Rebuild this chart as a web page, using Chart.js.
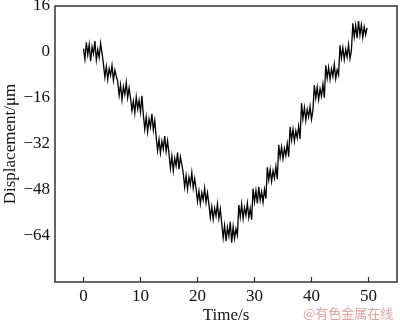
<!DOCTYPE html>
<html>
<head>
<meta charset="utf-8">
<script src="https://cdn.jsdelivr.net/npm/chart.js@4/dist/chart.umd.min.js"></script>
<style>
  html, body { margin: 0; padding: 0; background: #fff; }
  #wrap { width: 400px; height: 320px; position: relative; }
</style>
</head>
<body>
<div id="wrap"><canvas id="dispChart"></canvas></div>
<script>
// sample times (s)
const time = [
    0, 0.25, 0.5, 0.75, 1, 1.25, 1.5, 1.75, 2, 2.25, 2.5, 2.75, 3, 3.25, 3.5, 3.75, 4, 4.25, 4.5, 4.75,
    5, 5.25, 5.5, 5.75, 6, 6.25, 6.5, 6.75, 7, 7.25, 7.5, 7.75, 8, 8.25, 8.5, 8.75, 9, 9.25, 9.5, 9.75,
    10, 10.25, 10.5, 10.75, 11, 11.25, 11.5, 11.75, 12, 12.25, 12.5, 12.75, 13, 13.25, 13.5, 13.75, 14, 14.25, 14.5, 14.75,
    15, 15.25, 15.5, 15.75, 16, 16.25, 16.5, 16.75, 17, 17.25, 17.5, 17.75, 18, 18.25, 18.5, 18.75, 19, 19.25, 19.5, 19.75,
    20, 20.25, 20.5, 20.75, 21, 21.25, 21.5, 21.75, 22, 22.25, 22.5, 22.75, 23, 23.25, 23.5, 23.75, 24, 24.25, 24.5, 24.75,
    25, 25.25, 25.5, 25.75, 26, 26.25, 26.5, 26.75, 27, 27.25, 27.5, 27.75, 28, 28.25, 28.5, 28.75, 29, 29.25, 29.5, 29.75,
    30, 30.25, 30.5, 30.75, 31, 31.25, 31.5, 31.75, 32, 32.25, 32.5, 32.75, 33, 33.25, 33.5, 33.75, 34, 34.25, 34.5, 34.75,
    35, 35.25, 35.5, 35.75, 36, 36.25, 36.5, 36.75, 37, 37.25, 37.5, 37.75, 38, 38.25, 38.5, 38.75, 39, 39.25, 39.5, 39.75,
    40, 40.25, 40.5, 40.75, 41, 41.25, 41.5, 41.75, 42, 42.25, 42.5, 42.75, 43, 43.25, 43.5, 43.75, 44, 44.25, 44.5, 44.75,
    45, 45.25, 45.5, 45.75, 46, 46.25, 46.5, 46.75, 47, 47.25, 47.5, 47.75, 48, 48.25, 48.5, 48.75, 49, 49.25, 49.5, 49.75
];

// displacement (um)
const displacement = [
    1.2, -2.5, 3.4, -1.0, 2.6, -3.2, 1.8, -0.6, 3.8, -2.8, 0.9, -1.9, 3.1, -0.4,
    -4.2, -8.8, -5.0, -9.6, -5.8, -8.1, -4.6, -9.9, -6.3, -8.4,
    -10.2, -15.1, -11.4, -16.6, -12.0, -14.8, -10.6, -15.9, -12.5,
    -16.0, -20.4, -17.1, -21.2, -15.6, -19.8, -16.8, -20.9, -15.2,
    -21.8, -26.9, -22.6, -27.8, -23.3, -26.1, -21.5, -27.2, -23.8,
    -29.6, -34.3, -30.4, -35.1, -31.0, -33.8, -29.2, -34.6, -30.9,
    -35.4, -40.5, -36.2, -41.3, -37.0, -39.6, -35.0, -40.8, -36.5, -39.2,
    -42.1, -47.0, -43.0, -47.8, -43.6, -46.2, -41.9, -47.3, -44.0,
    -47.6, -52.0, -48.3, -52.8, -48.9, -51.5, -47.4, -52.4, -49.0,
    -53.0, -57.6, -53.8, -58.2, -54.3, -57.0, -52.8, -57.9, -54.6,
    -59.5, -64.6, -60.3, -65.8, -61.0, -64.0, -59.1, -66.3, -60.8, -64.9, -61.5, -63.7,
    -53.2, -57.4, -52.9, -58.0, -54.1, -56.8, -52.6, -57.6, -54.4, -58.3,
    -47.5, -52.1, -48.2, -52.7, -46.9, -51.6, -48.6, -52.3, -47.8, -51.0,
    -40.1, -44.5, -40.8, -45.0, -41.3, -43.9, -39.8, -44.2,
    -32.3, -36.6, -33.0, -37.1, -33.5, -36.0, -31.9, -36.4,
    -26.0, -30.6, -26.8, -31.0, -27.4, -29.9, -25.8, -30.2,
    -17.8, -23.2, -19.3, -23.8, -19.9, -22.6, -18.9, -23.4, -20.2,
    -11.5, -16.0, -12.2, -16.6, -12.8, -15.4, -11.2, -15.9,
    -4.6, -9.1, -5.4, -9.6, -5.9, -8.5, -4.3, -9.3, -6.2, -8.0,
    2.3, -2.1, 1.5, -2.6, 0.9, -1.8, 2.6, -2.3, 0.4,
    10.0, 5.3, 9.2, 4.8, 10.8, 5.9, 9.5, 5.1, 8.8, 6.0, 8.4
];

const xTicks = [0, 10, 20, 30, 40, 50];
const yTicks = [16, 0, -16, -32, -48, -64];

const serif = "'Liberation Serif', 'Times New Roman', serif";

const framePlugin = {
    id: 'frame',
    afterDatasetsDraw(chart) {
        const { ctx, chartArea: a, scales } = chart;
        ctx.save();
        ctx.strokeStyle = '#333';
        ctx.lineWidth = 1.5;
        ctx.strokeRect(a.left, a.top, a.right - a.left, a.bottom - a.top);
        // short inward ticks on the time axis
        ctx.lineWidth = 1.2;
        scales.x.ticks.forEach(t => {
            const px = scales.x.getPixelForValue(t.value);
            ctx.beginPath();
            ctx.moveTo(px, a.bottom);
            ctx.lineTo(px, a.bottom - 5);
            ctx.stroke();
        });
        // watermark
        ctx.fillStyle = '#eaa0a0';
        ctx.font = "13px 'Noto Sans CJK SC', sans-serif";
        ctx.textBaseline = 'alphabetic';
        ctx.fillText('@有色金属在线', 303, 318);
        ctx.restore();
    }
};

const ctx = document.getElementById('dispChart').getContext('2d');

new Chart(ctx, {
    type: 'line',
    data: {
        datasets: [{
            data: time.map((t, i) => ({ x: t, y: displacement[i] })),
            borderColor: '#000',
            borderWidth: 1.3,
            pointRadius: 0,
            tension: 0,
            fill: false
        }]
    },
    options: {
        responsive: true,
        maintainAspectRatio: false,
        animation: false,
        layout: { padding: { top: 6, right: 3, left: 0, bottom: 0 } },
        plugins: {
            legend: { display: false },
            tooltip: { enabled: false }
        },
        scales: {
            x: {
                type: 'linear',
                min: -5,
                max: 55,
                afterBuildTicks: scale => { scale.ticks = xTicks.map(v => ({ value: v })); },
                afterFit: scale => {
                    scale.height = 38;
                    scale.paddingLeft = 0;
                    scale.paddingRight = 0;
                },
                grid: { display: false, drawTicks: false, tickLength: 0 },
                border: { display: false },
                ticks: {
                    color: '#111',
                    padding: 4,
                    maxRotation: 0,
                    font: { family: serif, size: 17 }
                },
                title: {
                    display: true,
                    text: 'Time/s',
                    color: '#111',
                    padding: { top: 0, bottom: -6 },
                    font: { family: serif, size: 17 }
                }
            },
            y: {
                min: -80,
                max: 16,
                afterBuildTicks: scale => { scale.ticks = yTicks.map(v => ({ value: v })); },
                afterFit: scale => {
                    scale.width = 55;
                    scale.paddingTop = 0;
                    scale.paddingBottom = 0;
                },
                grid: { display: false, drawTicks: false, tickLength: 0 },
                border: { display: false },
                ticks: {
                    color: '#111',
                    padding: 5,
                    font: { family: serif, size: 17 },
                    callback: v => String(v).replace('-', '\u2212')
                },
                title: {
                    display: true,
                    text: 'Displacement/\u03bcm',
                    color: '#111',
                    padding: { top: 0, bottom: 0 },
                    font: { family: serif, size: 17 }
                }
            }
        }
    },
    plugins: [framePlugin]
});
</script>
</body>
</html>
